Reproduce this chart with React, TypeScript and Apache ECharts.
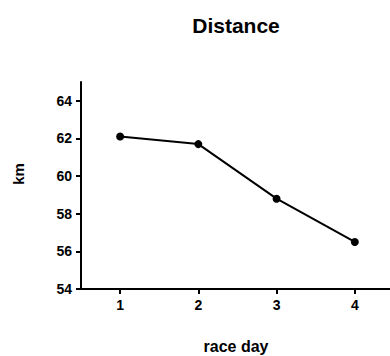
import React, { useEffect, useRef } from "react";
import * as echarts from "echarts";

const raceDays = [1, 2, 3, 4];
const distanceKm = [62.1, 61.7, 58.8, 56.5];
const titleText = "Distance";
const xName = "race day";
const yName = "km";

const FONT = "'Liberation Sans', Arial, sans-serif";

export default function App() {
  const ref = useRef<HTMLDivElement>(null);
  useEffect(() => {
    if (!ref.current) return;
    const chart = echarts.init(ref.current, null, { renderer: "svg" });
    chart.setOption({
      animation: false,
      backgroundColor: "#fff",
      grid: { left: 81, right: 0, top: 82, bottom: 67, containLabel: false },
      graphic: [
        {
          type: "text",
          x: 236,
          y: 25,
          style: {
            text: titleText,
            font: `bold 21px ${FONT}`,
            fill: "#000",
            align: "center",
            verticalAlign: "middle",
          },
        },
        {
          type: "text",
          x: 236,
          y: 346,
          style: {
            text: xName,
            font: `bold 16px ${FONT}`,
            fill: "#000",
            align: "center",
            verticalAlign: "middle",
          },
        },
        {
          type: "text",
          x: 18,
          y: 174,
          rotation: Math.PI / 2,
          style: {
            text: yName,
            font: `bold 15px ${FONT}`,
            fill: "#000",
            align: "center",
            verticalAlign: "middle",
          },
        },
      ],
      xAxis: {
        type: "value",
        min: 0.5,
        max: 4.45,
        axisLine: { show: true, lineStyle: { color: "#000", width: 2 } },
        axisTick: {
          show: true,
          customValues: raceDays,
          length: 5,
          lineStyle: { color: "#000", width: 2 },
        },
        axisLabel: {
          customValues: raceDays,
          margin: 9,
          color: "#000",
          fontFamily: FONT,
          fontWeight: "bold",
          fontSize: 14,
        },
        splitLine: { show: false },
      },
      yAxis: {
        type: "value",
        min: 54,
        max: 65,
        interval: 2,
        axisLine: { show: true, lineStyle: { color: "#000", width: 2 } },
        axisTick: { show: true, length: 5, lineStyle: { color: "#000", width: 2 } },
        axisLabel: {
          margin: 9,
          color: "#000",
          fontFamily: FONT,
          fontWeight: "bold",
          fontSize: 14,
          showMaxLabel: false,
        },
        splitLine: { show: false },
      },
      series: [
        {
          type: "line",
          data: raceDays.map((d, i) => [d, distanceKm[i]]),
          symbol: "circle",
          symbolSize: 8,
          itemStyle: { color: "#000" },
          lineStyle: { color: "#000", width: 2 },
        },
      ],
    });
    return () => chart.dispose();
  }, []);
  return (
    <div
      ref={ref}
      style={{ width: 390, height: 356, position: "absolute", left: 0, top: 0 }}
    />
  );
}
